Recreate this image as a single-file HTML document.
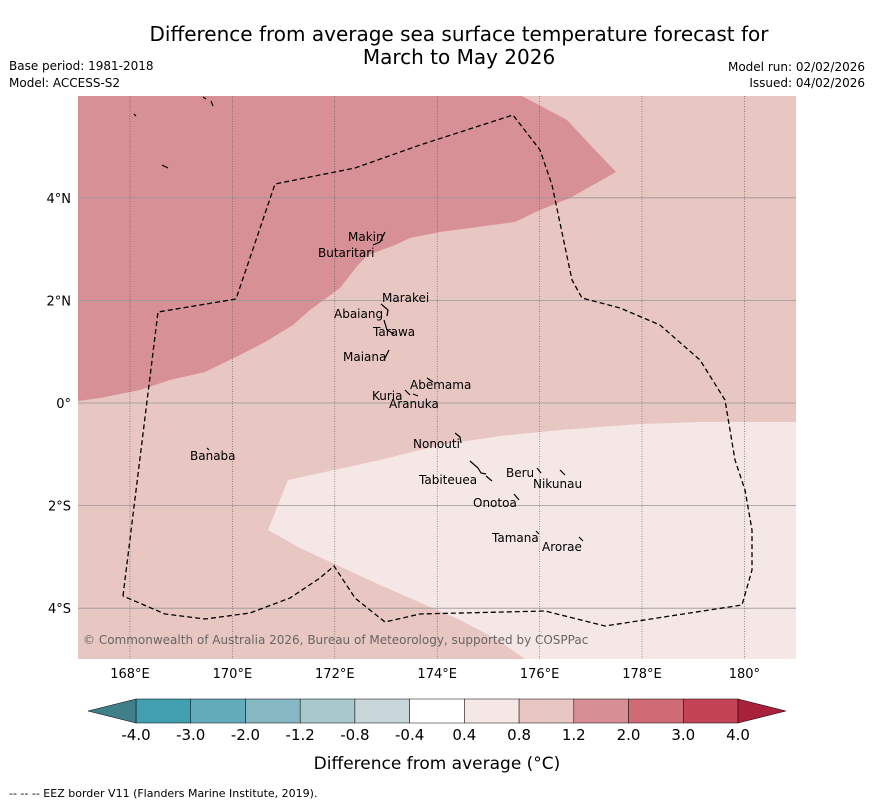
<!DOCTYPE html>
<html><head><meta charset="utf-8"><style>
body{margin:0;background:#fff;font-family:"Liberation Sans","DejaVu Sans",sans-serif;}
svg text{font-family:"DejaVu Sans","Liberation Sans",sans-serif;}
</style></head><body>
<svg id="c" width="873" height="804" xmlns="http://www.w3.org/2000/svg">
<text x="459" y="41" font-size="20" text-anchor="middle">Difference from average sea surface temperature forecast for</text>
<text x="459" y="64" font-size="20" text-anchor="middle">March to May 2026</text>
<text x="9" y="70" font-size="12">Base period: 1981-2018</text>
<text x="9" y="87" font-size="12">Model: ACCESS-S2</text>
<text x="865" y="71" font-size="12" text-anchor="end">Model run: 02/02/2026</text>
<text x="865" y="87" font-size="12" text-anchor="end">Issued: 04/02/2026</text>
<g>
<rect x="78" y="96" width="718" height="563" fill="#e8c6c2"/>
<polygon fill="#d79096" points="78,96 522,96 567,120 595,150 616,172 570,198 540,210 515,222 470,228 440,232 410,238 395,245 368,255 358,265 340,288 310,310 293,325 265,342 240,355 205,372 170,380 140,390 100,398 78,401"/>
<polygon fill="#f5e7e5" points="796,422 700,422 640,424 560,430 500,436 440,445 380,460 288,480 268,530 300,548 380,585 460,620 498,640 525,659 796,659"/>
<g id="grid"></g>
<polyline fill="none" stroke="#000" stroke-width="1.3" stroke-dasharray="5,3" points="123,596 158,312 236,299 275,184 355,168 420,145 513,115 540,150 552,185 572,280 582,298 620,308 660,325 700,360 725,400 735,460 745,490 752,530 752,570 742,605 605,626 545,611 420,614 385,622 355,598 334,566 320,578 290,598 250,613 205,619 165,614 123,596"/>
<g fill="none" stroke="#000" stroke-width="1.2">
<path d="M373,245 L380,242 L385,232"/><path d="M381,304 L388,310 L387,316"/><path d="M384,320 L387,330 L394,334"/>
<path d="M385,358 L389,350"/><path d="M427,378 L433,382"/><path d="M405,390 L410,395"/><path d="M413,394 L418,396"/>
<path d="M455,433 L460,437 L461,443"/><path d="M470,461 L478,468 L481,473 L486,474"/><path d="M486,476 L492,481"/>
<path d="M537,468 L541,473"/><path d="M560,470 L565,475"/><path d="M514,494 L519,500"/><path d="M536,531 L539,534"/><path d="M579,537 L583,541"/>
<path d="M207,448 L209,450"/><path d="M162,165 L168,168"/><path d="M134,114 L136,116"/><path d="M203,97 L206,99"/><path d="M211,101 L213,106"/>
</g>
<g font-size="12">
<text x="348" y="241">Makin</text><text x="318" y="257">Butaritari</text>
<text x="382" y="302">Marakei</text><text x="334" y="318">Abaiang</text>
<text x="373" y="336">Tarawa</text><text x="343" y="361">Maiana</text>
<text x="410" y="389">Abemama</text><text x="372" y="400">Kuria</text>
<text x="389" y="408">Aranuka</text><text x="413" y="448">Nonouti</text>
<text x="190" y="460">Banaba</text><text x="506" y="477">Beru</text>
<text x="533" y="488">Nikunau</text><text x="419" y="484">Tabiteuea</text>
<text x="473" y="507">Onotoa</text><text x="492" y="542">Tamana</text>
<text x="542" y="551">Arorae</text>
</g>
<text x="83" y="644" font-size="12" fill="#666">© Commonwealth of Australia 2026, Bureau of Meteorology, supported by COSPPac</text>
</g>
<g id="axes"></g>
<g id="cbar"></g>
<text x="437" y="769" font-size="17" text-anchor="middle">Difference from average (°C)</text>
<text x="9" y="797" font-size="11">--  --  -- EEZ border V11 (Flanders Marine Institute, 2019).</text>
</svg>
<script>
const lonTicks=[168,170,172,174,176,178,180];
const latTicks=[4,2,0,-2,-4];
const levels=["-4.0","-3.0","-2.0","-1.2","-0.8","-0.4","0.4","0.8","1.2","2.0","3.0","4.0"];
const levelColors=["#419fb0","#64acbb","#86b7c2","#a7c8cc","#c8d5d9","#ffffff","#f5e7e5","#e8c6c2","#d88e95","#cf6b74","#c44456"];
const NS="http://www.w3.org/2000/svg";
const x=lon=>130+(lon-168)*51.2, y=lat=>403-lat*51.3;
function mk(t,a,p){const e=document.createElementNS(NS,t);for(const k in a)e.setAttribute(k,a[k]);p.appendChild(e);return e;}
const g=document.getElementById('grid'),ax=document.getElementById('axes'),cb=document.getElementById('cbar');
lonTicks.forEach(l=>{
 const ln=mk('line',{x1:x(l),x2:x(l),y1:96,y2:659,stroke:'#555','stroke-width':0.6,'stroke-dasharray':'1,1.5'},g);
 
 
 const t=mk('text',{x:x(l),y:678,'font-size':13,'text-anchor':'middle'},ax);
 t.textContent=(l===180?'180°':l+'°E');
 
 
});
latTicks.forEach(l=>{
 const ln=mk('line',{x1:78,x2:796,y1:y(l),y2:y(l),stroke:'#999','stroke-width':0.8},g);
 
 
 const t=mk('text',{x:71,y:y(l)+5,'font-size':13,'text-anchor':'end'},ax);
 t.textContent=l===0?'0°':Math.abs(l)+'°'+(l>0?'N':'S');
 
 
});
const cx0=136,cx1=738,cy=699,ch=24,w=(cx1-cx0)/levelColors.length;
levelColors.forEach((c,i)=>{
 const r=mk('rect',{x:cx0+i*w,y:cy,width:w,height:ch,fill:c,stroke:'#000','stroke-width':0.5},cb);
 
 
});
const lt=mk('polygon',{points:`${cx0},${cy} 88,${cy+ch/2} ${cx0},${cy+ch}`,fill:'#3f7f89',stroke:'#000','stroke-width':0.5},cb);


const rt=mk('polygon',{points:`${cx1},${cy} 786,${cy+ch/2} ${cx1},${cy+ch}`,fill:'#a8203a',stroke:'#000','stroke-width':0.5},cb);


levels.forEach((s,i)=>{
 const t=mk('text',{x:cx0+i*w,y:740,'font-size':15,'text-anchor':'middle'},cb);
 t.textContent=s;
 
 
});
</script>
</body></html>
